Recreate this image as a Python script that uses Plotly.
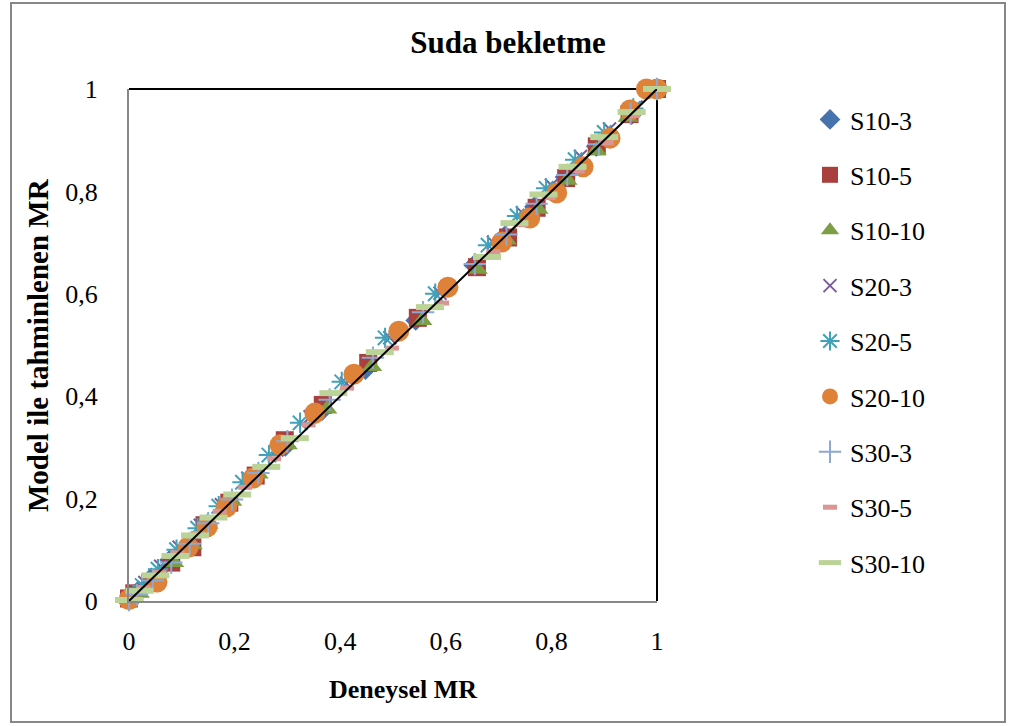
import plotly.graph_objects as go

# ---- data (Deneysel MR vs Model ile tahminlenen MR) ----
names = ["S10-3", "S10-5", "S10-10", "S20-3", "S20-5", "S20-10", "S30-3", "S30-5", "S30-10"]

s10_3_x = [1.0, 0.952, 0.885, 0.826, 0.768, 0.712, 0.653, 0.543, 0.448, 0.366, 0.296, 0.238, 0.190, 0.148, 0.114, 0.077, 0.042, 0.018, 0.0]
s10_3_y = [1.0, 0.950, 0.888, 0.828, 0.770, 0.713, 0.656, 0.548, 0.452, 0.372, 0.302, 0.243, 0.193, 0.150, 0.114, 0.080, 0.045, 0.020, 0.002]

s10_5_x = [1.0, 0.948, 0.886, 0.828, 0.772, 0.718, 0.659, 0.547, 0.453, 0.367, 0.295, 0.240, 0.190, 0.143, 0.120, 0.080, 0.040, 0.010, 0.0]
s10_5_y = [1.0, 0.951, 0.888, 0.826, 0.768, 0.710, 0.652, 0.553, 0.465, 0.383, 0.314, 0.245, 0.192, 0.148, 0.105, 0.075, 0.035, 0.015, 0.005]

s10_10_x = [1.0, 0.945, 0.885, 0.830, 0.775, 0.715, 0.660, 0.555, 0.460, 0.375, 0.300, 0.245, 0.195, 0.150, 0.120, 0.085, 0.045, 0.020, 0.0]
s10_10_y = [1.0, 0.945, 0.880, 0.822, 0.765, 0.705, 0.648, 0.548, 0.458, 0.375, 0.305, 0.248, 0.195, 0.150, 0.110, 0.075, 0.040, 0.015, 0.003]

s20_3_x = [1.0, 0.960, 0.910, 0.855, 0.800, 0.745, 0.690, 0.589, 0.494, 0.412, 0.343, 0.280, 0.225, 0.175, 0.135, 0.095, 0.060, 0.030, 0.0]
s20_3_y = [1.0, 0.965, 0.922, 0.868, 0.812, 0.758, 0.700, 0.601, 0.514, 0.425, 0.360, 0.295, 0.240, 0.188, 0.148, 0.105, 0.068, 0.036, 0.003]

s20_5_x = [1.0, 0.955, 0.900, 0.845, 0.790, 0.735, 0.680, 0.580, 0.485, 0.403, 0.324, 0.265, 0.215, 0.170, 0.130, 0.090, 0.055, 0.025, 0.0]
s20_5_y = [1.0, 0.962, 0.915, 0.862, 0.806, 0.752, 0.695, 0.600, 0.514, 0.428, 0.348, 0.285, 0.232, 0.185, 0.142, 0.100, 0.062, 0.030, 0.002]

s20_10_x = [1.0, 0.980, 0.949, 0.911, 0.860, 0.810, 0.759, 0.706, 0.604, 0.511, 0.426, 0.352, 0.286, 0.235, 0.185, 0.148, 0.112, 0.053, 0.0]
s20_10_y = [1.0, 1.000, 0.959, 0.904, 0.848, 0.797, 0.748, 0.701, 0.613, 0.527, 0.443, 0.367, 0.305, 0.240, 0.184, 0.145, 0.105, 0.037, 0.003]

s30_3_x = [1.0, 0.950, 0.890, 0.830, 0.772, 0.715, 0.655, 0.557, 0.462, 0.380, 0.300, 0.245, 0.195, 0.150, 0.115, 0.080, 0.045, 0.015, 0.0]
s30_3_y = [1.0, 0.952, 0.892, 0.832, 0.776, 0.716, 0.658, 0.564, 0.475, 0.393, 0.312, 0.250, 0.198, 0.152, 0.112, 0.075, 0.040, 0.012, 0.002]

s30_5_x = [1.0, 0.955, 0.905, 0.850, 0.795, 0.742, 0.690, 0.593, 0.498, 0.413, 0.340, 0.275, 0.220, 0.172, 0.130, 0.092, 0.058, 0.028, 0.0]
s30_5_y = [1.0, 0.948, 0.895, 0.840, 0.788, 0.735, 0.682, 0.582, 0.494, 0.416, 0.344, 0.278, 0.222, 0.175, 0.132, 0.094, 0.056, 0.026, 0.002]

s30_10_x = [1.0, 0.952, 0.900, 0.840, 0.785, 0.730, 0.678, 0.570, 0.475, 0.387, 0.314, 0.260, 0.205, 0.160, 0.125, 0.088, 0.050, 0.020, 0.0]
s30_10_y = [1.0, 0.955, 0.906, 0.848, 0.794, 0.738, 0.672, 0.574, 0.486, 0.406, 0.318, 0.262, 0.208, 0.163, 0.128, 0.088, 0.050, 0.020, 0.002]

ref_x = [0, 1]
ref_y = [0, 1]

xs = [s10_3_x, s10_5_x, s10_10_x, s20_3_x, s20_5_x, s20_10_x, s30_3_x, s30_5_x, s30_10_x]
ys = [s10_3_y, s10_5_y, s10_10_y, s20_3_y, s20_5_y, s20_10_y, s30_3_y, s30_5_y, s30_10_y]

markers = [
    dict(symbol="diamond", size=16, color="#4672AE"),
    dict(symbol="square", size=18, color="#A9403E"),
    dict(symbol="triangle-up", size=18, color="#7E9E45"),
    dict(symbol="x-thin-open", size=13, color="#7A5C9A", line=dict(width=2, color="#7A5C9A")),
    dict(symbol="asterisk-open", size=17, color="#3FA2BA", line=dict(width=2, color="#3FA2BA")),
    dict(symbol="circle", size=21, color="#DE823A"),
    dict(symbol="cross-thin-open", size=16, color="#8DA8D4", line=dict(width=2, color="#8DA8D4")),
    dict(symbol="line-ew-open", size=10, color="#DB9593", line=dict(width=5, color="#DB9593")),
    dict(symbol="line-ew-open", size=20, color="#BCD398", line=dict(width=6, color="#BCD398")),
]

FONT = "Liberation Serif, Times New Roman, serif"

fig = go.Figure()
for i, n in enumerate(names):
    fig.add_trace(go.Scatter(x=xs[i], y=ys[i], mode="markers", name=n, marker=markers[i],
                             cliponaxis=False, legendgroup=n))
fig.add_trace(go.Scatter(x=ref_x, y=ref_y, mode="lines", line=dict(color="black", width=2),
                         showlegend=False, cliponaxis=False))

L, R, T, B = 129, 1012 - 657, 89, 726 - 601
W, H = 1012 - L - R, 726 - T - B

def px(p):
    return (p - L) / W

def py(p):
    return (726 - B - p) / H

fig.update_layout(
    width=1012, height=726,
    margin=dict(l=L, r=R, t=T, b=B),
    paper_bgcolor="white", plot_bgcolor="white",
    separators=", ",
    font=dict(family=FONT, size=26, color="black"),
    title=dict(text="<b>Suda bekletme</b>", x=0.502, xanchor="center", y=1 - 42 / 726, yanchor="middle",
               font=dict(family=FONT, size=31)),
    xaxis=dict(range=[0, 1], tickvals=[0, 0.2, 0.4, 0.6, 0.8, 1], showgrid=False, zeroline=False,
               showline=True, linecolor="#878787", linewidth=2, ticks="", ticklabelstandoff=16,
               tickfont=dict(size=26)),
    yaxis=dict(range=[0, 1], tickvals=[0, 0.2, 0.4, 0.6, 0.8, 1], showgrid=False, zeroline=False,
               showline=True, linecolor="#878787", linewidth=2, ticks="", ticklabelstandoff=24,
               tickfont=dict(size=26)),
    legend=dict(x=px(810), y=py(96), xanchor="left", yanchor="top", font=dict(size=26),
                tracegroupgap=18.6, bgcolor="rgba(0,0,0,0)"),
    showlegend=True,
    annotations=[
        dict(text="<b>Deneysel MR</b>", x=px(403), y=py(689), xref="paper", yref="paper",
             showarrow=False, font=dict(size=26), xanchor="center", yanchor="middle"),
        dict(text="<b>Model ile tahminlenen MR</b>", x=px(38), y=0.5, xref="paper", yref="paper",
             showarrow=False, textangle=-90, font=dict(size=29), xanchor="center", yanchor="middle"),
    ],
    shapes=[
        dict(type="line", xref="paper", yref="paper", x0=0, x1=1, y0=1, y1=1,
             line=dict(color="black", width=2), layer="below"),
        dict(type="line", xref="paper", yref="paper", x0=1, x1=1, y0=0, y1=1,
             line=dict(color="black", width=2), layer="below"),
        dict(type="rect", xref="paper", yref="paper", x0=px(11), x1=px(1005), y0=py(722), y1=py(3),
             line=dict(color="#878787", width=2), layer="below"),
    ],
)

fig.write_html("out.html")
